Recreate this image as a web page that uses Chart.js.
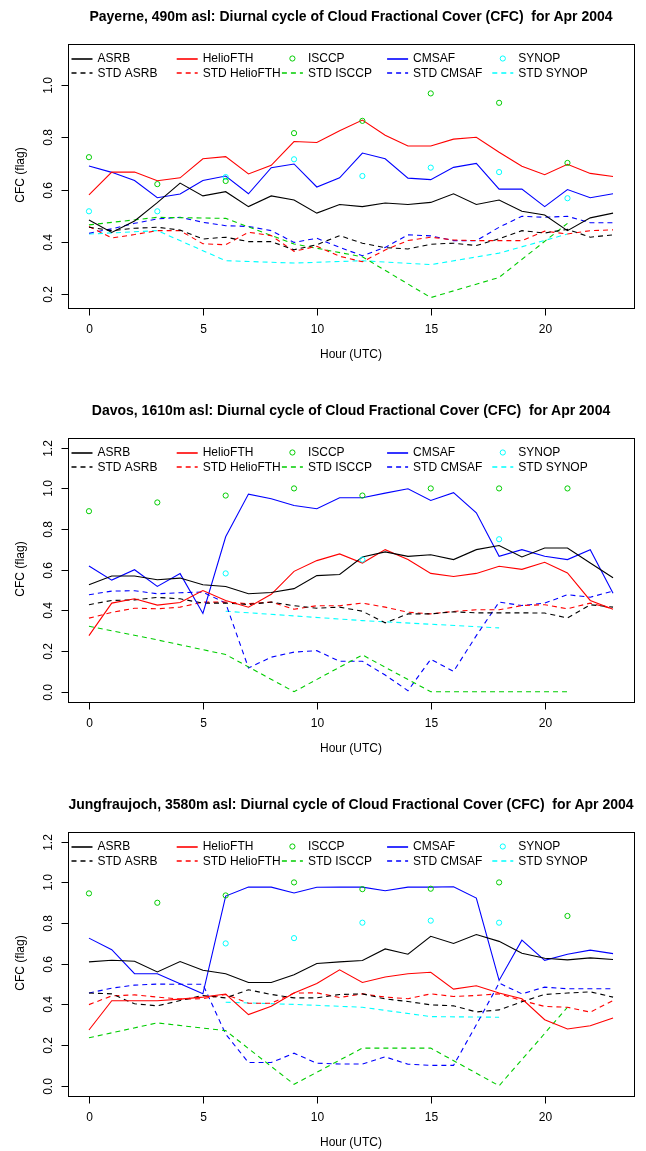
<!DOCTYPE html>
<html><head><meta charset="utf-8">
<script src="https://cdn.jsdelivr.net/npm/chart.js@4.4.1/dist/chart.umd.min.js"></script>
<style>
html,body{margin:0;padding:0;background:#fff;overflow:hidden;width:646px;height:1151px;}
.panel{position:absolute;left:0;width:646px;height:394px;}
.panel canvas{position:absolute;left:0;top:0;}
.title{position:absolute;left:51px;width:600px;top:8px;line-height:18px;text-align:center;font:bold 14px "Liberation Sans",Arial,sans-serif;color:#000;white-space:pre;}
.xlab{position:absolute;left:68px;width:566px;top:347px;line-height:16px;text-align:center;font:12px "Liberation Sans",Arial,sans-serif;color:#000;}
.ylab{position:absolute;left:-80px;width:200px;top:167.5px;line-height:16px;text-align:center;font:12px "Liberation Sans",Arial,sans-serif;color:#000;transform:rotate(-90deg);}
</style>
</head><body>
<div class="panel" style="top:0px"><canvas id="c1" width="646" height="394"></canvas><div class="title" id="t1"></div><div class="xlab">Hour (UTC)</div><div class="ylab">CFC (flag)</div></div>
<div class="panel" style="top:394px"><canvas id="c2" width="646" height="394"></canvas><div class="title" id="t2"></div><div class="xlab">Hour (UTC)</div><div class="ylab">CFC (flag)</div></div>
<div class="panel" style="top:788px"><canvas id="c3" width="646" height="394"></canvas><div class="title" id="t3"></div><div class="xlab">Hour (UTC)</div><div class="ylab">CFC (flag)</div></div>
<script>
const n = null;
const hours = [0,1,2,3,4,5,6,7,8,9,10,11,12,13,14,15,16,17,18,19,20,21,22,23];
const xTicks = [0,5,10,15,20];
const yTicksPayerne = [0.2,0.4,0.6,0.8,1.0];
const yTicksAlpine = [0.0,0.2,0.4,0.6,0.8,1.0,1.2];
const seriesLabels = ["ASRB","HelioFTH","ISCCP","CMSAF","SYNOP","STD ASRB","STD HelioFTH","STD ISCCP","STD CMSAF","STD SYNOP"];
const titles = [
  "Payerne, 490m asl: Diurnal cycle of Cloud Fractional Cover (CFC)  for Apr 2004",
  "Davos, 1610m asl: Diurnal cycle of Cloud Fractional Cover (CFC)  for Apr 2004",
  "Jungfraujoch, 3580m asl: Diurnal cycle of Cloud Fractional Cover (CFC)  for Apr 2004"
];

// Payerne
const asrb1 = [0.484,0.436,0.48,0.55,0.625,0.576,0.592,0.535,0.576,0.56,0.51,0.543,0.535,0.549,0.543,0.551,0.584,0.543,0.56,0.517,0.503,0.443,0.492,0.51];
const helio1 = [0.58,0.667,0.667,0.634,0.645,0.718,0.726,0.66,0.693,0.784,0.78,0.825,0.866,0.808,0.767,0.767,0.793,0.8,0.743,0.689,0.657,0.697,0.662,0.65];
const isccp1 = [0.724,n,n,0.621,n,n,0.633,n,n,0.816,n,n,0.863,n,n,0.968,n,n,0.932,n,n,0.702,n,n];
const cmsaf1 = [0.69,0.666,0.635,0.569,0.583,0.635,0.652,0.584,0.684,0.698,0.61,0.645,0.74,0.718,0.644,0.638,0.685,0.7,0.602,0.602,0.535,0.6,0.569,0.584];
const synop1 = [0.517,n,n,0.517,n,n,0.648,n,n,0.716,n,n,0.652,n,n,0.684,n,n,0.667,n,n,0.567,n,n];
const stdAsrb1 = [0.456,0.443,0.452,0.456,0.445,0.411,0.418,0.401,0.401,0.37,0.389,0.424,0.395,0.378,0.373,0.391,0.395,0.386,0.412,0.443,0.434,0.448,0.418,0.427];
const stdHelio1 = [0.459,0.415,0.428,0.443,0.443,0.393,0.389,0.437,0.424,0.364,0.383,0.345,0.324,0.369,0.405,0.418,0.407,0.405,0.405,0.405,0.441,0.43,0.443,0.446];
const stdIsccp1 = [0.465,n,n,0.494,n,n,0.49,n,n,0.392,n,n,0.343,n,n,0.187,n,n,0.264,n,n,0.471,n,n];
const stdCmsaf1 = [0.433,0.45,0.471,0.488,0.494,0.475,0.462,0.459,0.443,0.398,0.414,0.379,0.347,0.379,0.427,0.423,0.405,0.405,0.456,0.498,0.494,0.498,0.473,0.473];
const stdSynop1 = [0.43,n,n,0.443,n,n,0.328,n,n,0.319,n,n,0.328,n,n,0.313,n,n,0.357,n,n,0.43,n,n];

// Davos
const asrb2 = [0.526,0.569,0.569,0.551,0.559,0.526,0.518,0.482,0.488,0.507,0.571,0.577,0.663,0.688,0.666,0.674,0.65,0.699,0.719,0.663,0.707,0.707,0.633,0.561];
const helio2 = [0.276,0.436,0.457,0.426,0.439,0.498,0.449,0.416,0.479,0.592,0.645,0.678,0.633,0.699,0.65,0.582,0.567,0.582,0.617,0.602,0.637,0.584,0.449,0.406];
const isccp2 = [0.888,n,n,0.931,n,n,0.965,n,n,1.0,n,n,0.965,n,n,1.0,n,n,1.0,n,n,1.0,n,n];
const cmsaf2 = [0.618,0.549,0.6,0.518,0.581,0.385,0.762,0.972,0.949,0.916,0.9,0.954,0.954,0.977,0.998,0.941,0.979,0.88,0.666,0.699,0.666,0.65,0.699,0.485];
const synop2 = [n,n,n,n,n,n,0.582,n,n,n,n,n,0.65,n,n,n,n,n,0.75,n,n,n,n,n];
const stdAsrb2 = [0.428,0.449,0.452,0.464,0.457,0.436,0.436,0.429,0.441,0.423,0.411,0.416,0.396,0.339,0.383,0.383,0.393,0.388,0.388,0.388,0.387,0.363,0.428,0.416];
const stdHelio2 = [0.362,0.39,0.411,0.408,0.416,0.441,0.441,0.433,0.441,0.406,0.423,0.423,0.436,0.416,0.391,0.383,0.395,0.403,0.403,0.424,0.428,0.408,0.436,0.408];
const stdIsccp2 = [0.322,n,n,0.255,n,n,0.183,n,n,0.0,n,n,0.181,n,n,0.0,n,n,0.0,n,n,0.0,n,n];
const stdCmsaf2 = [0.477,0.495,0.497,0.482,0.487,0.49,0.436,0.117,0.17,0.195,0.202,0.15,0.15,0.082,0.005,0.16,0.1,0.276,0.441,0.424,0.436,0.477,0.465,0.495];
const stdSynop2 = [n,n,n,n,n,n,0.396,n,n,n,n,n,0.35,n,n,n,n,n,0.314,n,n,n,n,n];

// Jungfraujoch
const asrb3 = [0.609,0.617,0.612,0.56,0.611,0.568,0.551,0.508,0.508,0.546,0.601,0.609,0.616,0.673,0.647,0.735,0.7,0.744,0.71,0.652,0.627,0.619,0.629,0.621];
const helio3 = [0.274,0.418,0.418,0.418,0.426,0.436,0.451,0.35,0.391,0.456,0.503,0.57,0.508,0.535,0.551,0.558,0.475,0.492,0.456,0.428,0.325,0.279,0.295,0.333];
const isccp3 = [0.946,n,n,0.9,n,n,0.936,n,n,1.0,n,n,0.967,n,n,0.969,n,n,1.0,n,n,0.835,n,n];
const cmsaf3 = [0.726,0.669,0.551,0.551,0.502,0.452,0.933,0.977,0.977,0.948,0.976,0.977,0.977,0.959,0.977,0.977,0.979,0.923,0.518,0.716,0.617,0.647,0.667,0.65];
const synop3 = [n,n,n,n,n,n,0.7,n,n,0.726,n,n,0.802,n,n,0.812,n,n,0.802,n,n,n,n,n];
const stdAsrb3 = [0.456,0.452,0.403,0.393,0.419,0.444,0.432,0.472,0.449,0.432,0.432,0.449,0.452,0.427,0.414,0.398,0.393,0.363,0.373,0.413,0.449,0.456,0.462,0.436];
const stdHelio3 = [0.399,0.442,0.447,0.436,0.426,0.428,0.449,0.406,0.406,0.456,0.457,0.434,0.452,0.436,0.428,0.452,0.439,0.444,0.452,0.419,0.39,0.386,0.362,0.419];
const stdIsccp3 = [0.236,n,n,0.309,n,n,0.271,n,n,0.007,n,n,0.185,n,n,0.185,n,n,0.0,n,n,0.386,n,n];
const stdCmsaf3 = [0.456,0.48,0.495,0.5,0.499,0.499,0.254,0.114,0.114,0.16,0.111,0.107,0.107,0.142,0.106,0.1,0.1,0.3,0.505,0.452,0.485,0.477,0.477,0.477];
const stdSynop3 = [n,n,n,n,n,n,0.411,n,n,0.4,n,n,0.386,n,n,0.34,n,n,0.337,n,n,n,n,n];

const colors = ["#000000","#FF0000","#00CD00","#0000FF","#00FFFF"];
const FONT = '"Liberation Sans", Arial, sans-serif';
const DASH = [5,4];

function pts(arr){ return hours.map((h,i)=>({x:h,y:arr[i]})); }

function makeDatasets(mains, stds){
  const ds = [];
  mains.forEach((arr,i)=>{
    const isPoint = (i===2 || i===4);
    ds.push({label:seriesLabels[i], data:pts(arr), borderColor:colors[i], backgroundColor:'rgba(0,0,0,0)',
      borderWidth:1.1, showLine:!isPoint, pointRadius:isPoint?2.6:0, pointBorderWidth:1,
      pointBackgroundColor:'rgba(0,0,0,0)', pointBorderColor:colors[i], spanGaps:true, tension:0, order: isPoint?0:2});
  });
  stds.forEach((arr,i)=>{
    ds.push({label:seriesLabels[5+i], data:pts(arr), borderColor:colors[i], backgroundColor:'rgba(0,0,0,0)',
      borderWidth:1.1, borderDash:DASH, showLine:true, pointRadius:0, spanGaps:true, tension:0, order:3});
  });
  return ds;
}

const rAxes = {
  id:'rAxes',
  afterDraw(chart, args, opts){
    const ctx = chart.ctx, a = chart.chartArea;
    const xs = chart.scales.x, ys = chart.scales.y;
    ctx.save();
    ctx.strokeStyle = '#000'; ctx.lineWidth = 1; ctx.setLineDash([]);
    const L = Math.round(a.left)+0.5, R = Math.round(a.right)+0.5, T = Math.round(a.top)+0.5, B = Math.round(a.bottom)+0.5;
    ctx.strokeRect(L, T, R-L, B-T);
    ctx.fillStyle = '#000';
    ctx.font = '12px ' + FONT;
    ctx.textAlign = 'center'; ctx.textBaseline = 'middle';
    xTicks.forEach(t=>{
      const px = Math.round(xs.getPixelForValue(t))+0.5;
      ctx.beginPath(); ctx.moveTo(px,B); ctx.lineTo(px,B+7); ctx.stroke();
      ctx.fillText(String(t), px, B+21);
    });
    opts.yTicks.forEach(t=>{
      const py = Math.round(ys.getPixelForValue(t))+0.5;
      ctx.beginPath(); ctx.moveTo(L-7,py); ctx.lineTo(L,py); ctx.stroke();
      ctx.save(); ctx.translate(L-20, py); ctx.rotate(-Math.PI/2);
      ctx.fillText(t.toFixed(1), 0, 0); ctx.restore();
    });
    // legend, built from the datasets
    const ds = chart.data.datasets;
    ctx.textAlign = 'left';
    for (let i = 0; i < ds.length; i++){
      const d = ds[i];
      const row = Math.floor(i/5), col = i%5;
      const x0 = a.left + 3.5 + col*105.2;
      const y0 = a.top + 14.5 + row*14.7;
      const yl = Math.round(y0);
      const c = d.borderColor;
      if (d.showLine === false){
        ctx.lineWidth = 1;
        ctx.setLineDash([]);
        ctx.strokeStyle = c;
        ctx.beginPath(); ctx.arc(x0+10.5, y0, 2.6, 0, Math.PI*2); ctx.stroke();
      } else {
        ctx.lineWidth = 1.6;
        ctx.setLineDash(d.borderDash || []);
        ctx.strokeStyle = c;
        ctx.beginPath(); ctx.moveTo(x0, yl); ctx.lineTo(x0+21, yl); ctx.stroke();
        ctx.setLineDash([]);
      }
      ctx.fillStyle = '#000';
      ctx.fillText(d.label, x0+26, y0);
    }
    ctx.restore();
  }
};

function makeChart(id, datasets, ymin, ymax, yTicks){
  return new Chart(document.getElementById(id), {
    type:'line',
    data:{datasets},
    options:{
      responsive:false, animation:false, devicePixelRatio:1,
      layout:{padding:{left:68,right:12,top:44,bottom:86.5}},
      plugins:{legend:{display:false}, title:{display:false}, tooltip:{enabled:false}, rAxes:{yTicks}},
      scales:{
        x:{type:'linear', min:-0.92, max:23.92, display:false},
        y:{type:'linear', min:ymin, max:ymax, display:false}
      }
    },
    plugins:[rAxes]
  });
}

document.getElementById('t1').textContent = titles[0];
document.getElementById('t2').textContent = titles[1];
document.getElementById('t3').textContent = titles[2];

makeChart('c1', makeDatasets([asrb1,helio1,isccp1,cmsaf1,synop1],[stdAsrb1,stdHelio1,stdIsccp1,stdCmsaf1,stdSynop1]), 0.149, 1.157, yTicksPayerne);
makeChart('c2', makeDatasets([asrb2,helio2,isccp2,cmsaf2,synop2],[stdAsrb2,stdHelio2,stdIsccp2,stdCmsaf2,stdSynop2]), -0.048, 1.248, yTicksAlpine);
makeChart('c3', makeDatasets([asrb3,helio3,isccp3,cmsaf3,synop3],[stdAsrb3,stdHelio3,stdIsccp3,stdCmsaf3,stdSynop3]), -0.048, 1.248, yTicksAlpine);
</script>
</body></html>
